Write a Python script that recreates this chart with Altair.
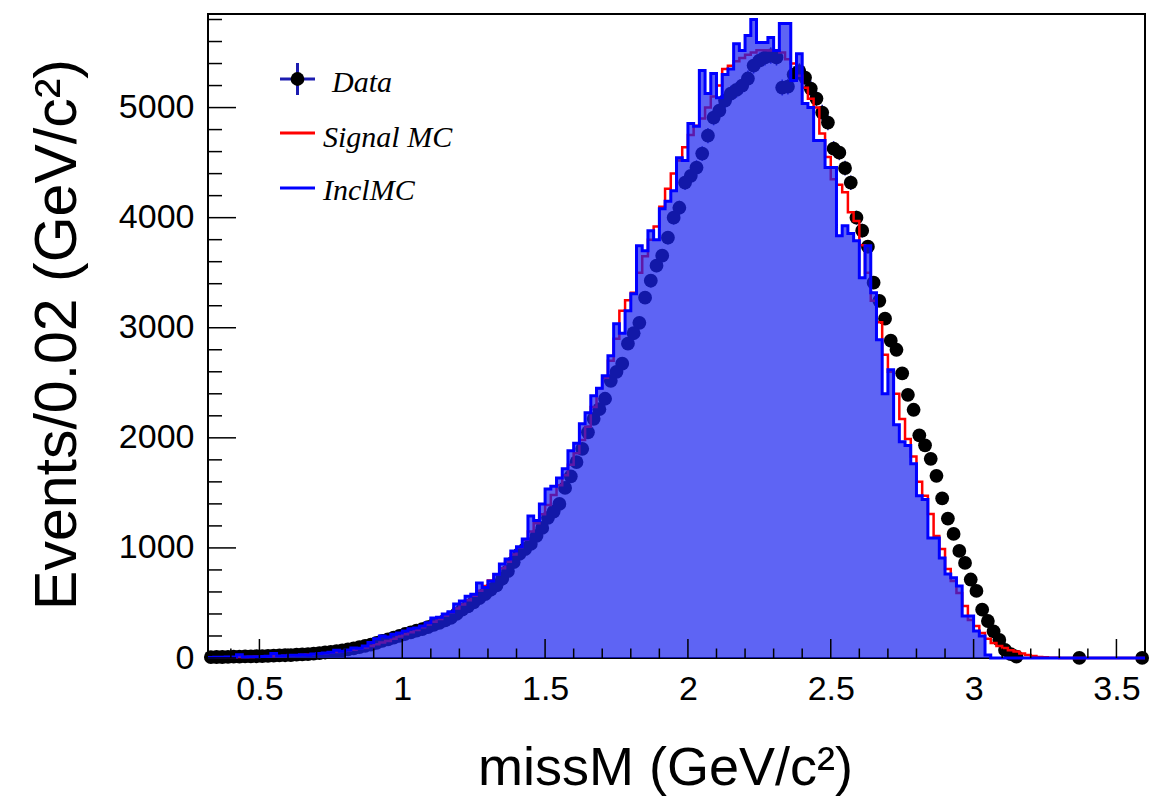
import altair as alt
import numpy as np
import pandas as pd

# ---------------- data (bins of 0.02 GeV/c^2 starting at 0.32) ----------------
bin_width = 0.02
x_min, x_max = 0.32, 3.60

data_counts = [
    8, 9, 9, 11, 12, 12, 14, 15, 16, 18,
    20, 21, 23, 25, 27, 30, 33, 36, 40, 45,
    50, 56, 62, 70, 78, 88, 98, 110, 122, 138,
    155, 170, 185, 200, 218, 232, 248, 262, 280, 300,
    320, 342, 364, 400, 440, 470, 505, 545, 580, 620,
    660, 720, 790, 870, 945, 990, 1036, 1110, 1182, 1273,
    1330, 1400, 1545, 1650, 1780, 1900, 2050, 2173, 2260, 2355,
    2518, 2600, 2673, 2855, 2950, 3045, 3273, 3427, 3564, 3655,
    3818, 4000, 4090, 4318, 4380, 4455, 4582, 4745, 4909, 4972,
    5064, 5127, 5160, 5200, 5264, 5382, 5427, 5455, 5473, 5455,
    5182, 5190, 5300, 5330, 5273, 5173, 5082, 4955, 4864, 4627,
    4590, 4450, 4318, 4000, 3882, 3736, 3409, 3245, 3082, 2882,
    2800, 2586, 2391, 2255, 2023, 1932, 1809, 1655, 1450, 1267,
    1127, 973, 864, 713, 609, 439, 336, 241, 164, 73,
    35, 13, None, None, None, None, None, None, None, None,
    None, None, 1, None, None, None, None, None, None, None,
    None, None, None, 1,
]

signal_mc = [
    3, 4, 5, 6, 7, 8, 9, 10, 11, 12,
    14, 15, 17, 19, 21, 24, 27, 30, 34, 38,
    43, 48, 54, 60, 67, 76, 85, 96, 108, 125,
    140, 155, 175, 195, 215, 235, 255, 280, 305, 330,
    355, 385, 415, 450, 485, 525, 565, 610, 655, 705,
    760, 815, 875, 940, 1005, 1075, 1150, 1225, 1305, 1390,
    1480, 1570, 1660, 1755, 1860, 1980, 2100, 2280, 2450, 2545,
    2700, 2900, 3155, 3250, 3318, 3500, 3650, 3800, 3920, 4100,
    4263, 4400, 4520, 4640, 4750, 4836, 4900, 5000, 5100, 5200,
    5350, 5380, 5420, 5450, 5480, 5500, 5520, 5520, 5518, 5518,
    5500, 5440, 5400, 5290, 5180, 5080, 5000, 4764, 4550, 4350,
    4300, 4230, 4050, 3970, 3750, 3500, 3245, 3050, 2755, 2600,
    2400, 2170, 1990, 1830, 1600, 1473, 1309, 1109, 990, 809,
    700, 590, 472, 345, 290, 227, 175, 136, 110, 91,
    70, 58, 40, 27, 18, 10, 6, 3, 2, 1,
    0, 0, 0, 0, 0, 0, 0, 0, 0, 0,
    0, 0, 0, 0,
]

incl_mc = [
    5, 6, 6, 8, 10, 30, 10, 12, 12, 14,
    16, 40, 18, 20, 24, 26, 30, 28, 36, 40,
    45, 52, 70, 62, 72, 90, 88, 110, 140, 175,
    200, 190, 215, 227, 245, 265, 273, 290, 320, 364,
    370, 400, 420, 490, 518, 560, 580, 682, 640, 700,
    760, 855, 900, 973, 1010, 1080, 1290, 1250, 1400, 1536,
    1560, 1636, 1718, 1882, 1950, 2127, 2227, 2382, 2450, 2564,
    2745, 3036, 2950, 3155, 3309, 3745, 3700, 3882, 3800, 4082,
    4150, 4245, 4545, 4520, 4855, 4830, 5336, 5127, 5310, 5090,
    5300, 5350, 5580, 5518, 5655, 5800, 5590, 5590, 5636, 5518,
    5764, 5764, 5245, 5490, 5036, 5000, 4700, 4700, 4455, 4455,
    3836, 3927, 3855, 3790, 3455, 3745, 3318, 2890, 2400, 2618,
    2118, 1964, 1930, 1764, 1473, 1440, 1090, 1090, 909, 764,
    730, 655, 382, 382, 245, 200, 27, 0, 0, 0,
    0, 0, 0, 0, 0, 0, 0, 0, 0, 0,
    0, 0, 0, 0, 0, 0, 0, 0, 0, 0,
    0, 0, 0, 0,
]

x_major_ticks = [0.5, 1.0, 1.5, 2.0, 2.5, 3.0, 3.5]
x_minor_ticks = [0.4, 0.6, 0.7, 0.8, 0.9, 1.1, 1.2, 1.3, 1.4, 1.6, 1.7, 1.8, 1.9,
                 2.1, 2.2, 2.3, 2.4, 2.6, 2.7, 2.8, 2.9, 3.1, 3.2, 3.3, 3.4]
y_major_ticks = [0, 1000, 2000, 3000, 4000, 5000]
y_minor_ticks = [200, 400, 600, 800, 1200, 1400, 1600, 1800, 2200, 2400, 2600, 2800,
                 3200, 3400, 3600, 3800, 4200, 4400, 4600, 4800, 5200, 5400, 5600, 5800]

y_max = 5850

# ---------------- tables ----------------
n = len(data_counts)
lo_edges = np.round(x_min + bin_width * np.arange(n), 2)
centers = lo_edges + bin_width / 2

pts = pd.DataFrame({"x": centers, "y": data_counts}).dropna()
pts["y"] = pts["y"].astype(float)
pts["e_lo"] = pts["y"] - np.sqrt(pts["y"])
pts["e_hi"] = pts["y"] + np.sqrt(pts["y"])

edges = list(lo_edges) + [x_max]
sig_df = pd.DataFrame({"x": edges, "y": signal_mc + [signal_mc[-1]]})
inc_df = pd.DataFrame({"x": edges, "y": incl_mc + [incl_mc[-1]]})

W, H = 937, 644
xs = alt.Scale(domain=[x_min, x_max], nice=False, zero=False)
ys = alt.Scale(domain=[0, y_max], nice=False)

FONT = "Liberation Sans"
LFONT = "Liberation Serif"

x_axis = alt.Axis(values=x_major_ticks, format="~g", grid=False, domain=False, ticks=False,
                  tickSize=0, labelFont=FONT, labelFontSize=34, labelColor="black",
                  labelPadding=14, title="missM (GeV/c²)", titleFont=FONT, titleFontSize=54,
                  titleFontWeight="normal", titleColor="black", titleX=457, titleY=126,
                  titleAlign="center", titleBaseline="alphabetic")
y_axis = alt.Axis(values=y_major_ticks, format="d", grid=False, domain=False, ticks=False,
                  tickSize=0, labelFont=FONT, labelFontSize=34, labelColor="black",
                  labelPadding=14, title="Events/0.02 (GeV/c²)", titleFont=FONT,
                  titleFontSize=59, titleFontWeight="normal", titleColor="black",
                  titleAngle=-90, titleX=-151, titleY=320, titleAlign="center",
                  titleBaseline="middle")

# base invisible layer carrying axes
axes_layer = alt.Chart(pts).mark_point(opacity=0).encode(
    x=alt.X("x:Q", scale=xs, axis=x_axis),
    y=alt.Y("y:Q", scale=ys, axis=y_axis),
)

err = alt.Chart(pts).mark_rule(color="#1c1cb0", strokeWidth=1.5).encode(
    x=alt.X("x:Q", scale=xs), y=alt.Y("e_lo:Q", scale=ys), y2="e_hi:Q")

dots = alt.Chart(pts).mark_circle(color="black", opacity=1, size=190).encode(
    x=alt.X("x:Q", scale=xs), y=alt.Y("y:Q", scale=ys))

sig_line = alt.Chart(sig_df).mark_line(color="#ff0000", strokeWidth=2.5,
                                       interpolate="step-after").encode(
    x=alt.X("x:Q", scale=xs), y=alt.Y("y:Q", scale=ys))

inc_area = alt.Chart(inc_df).mark_area(color="#1a22f0", opacity=0.7,
                                       interpolate="step-after").encode(
    x=alt.X("x:Q", scale=xs), y=alt.Y("y:Q", scale=ys))

inc_line = alt.Chart(inc_df).mark_line(color="#0000ff", strokeWidth=3,
                                       interpolate="step-after").encode(
    x=alt.X("x:Q", scale=xs), y=alt.Y("y:Q", scale=ys))

# ticks drawn inside the frame (ROOT style)
xmaj = alt.Chart(pd.DataFrame({"t": x_major_ticks})).mark_rule(color="black", strokeWidth=1.5).encode(
    x=alt.X("t:Q", scale=xs), y=alt.value(H), y2=alt.value(H - 19))
xmin_ = alt.Chart(pd.DataFrame({"t": x_minor_ticks})).mark_rule(color="black", strokeWidth=1.5).encode(
    x=alt.X("t:Q", scale=xs), y=alt.value(H), y2=alt.value(H - 9.5))
ymaj = alt.Chart(pd.DataFrame({"t": y_major_ticks})).mark_rule(color="black", strokeWidth=1.5).encode(
    y=alt.Y("t:Q", scale=ys), x=alt.value(0), x2=alt.value(28))
ymin_ = alt.Chart(pd.DataFrame({"t": y_minor_ticks})).mark_rule(color="black", strokeWidth=1.5).encode(
    y=alt.Y("t:Q", scale=ys), x=alt.value(0), x2=alt.value(14))

# legend
leg_cross_h = alt.Chart(pd.DataFrame({"a": [0]})).mark_rule(color="#1c1cb0", strokeWidth=3).encode(
    x=alt.value(72), x2=alt.value(107), y=alt.value(65))
leg_cross_v = alt.Chart(pd.DataFrame({"a": [0]})).mark_rule(color="#1c1cb0", strokeWidth=3).encode(
    x=alt.value(89.5), y=alt.value(49), y2=alt.value(81))
leg_dot = alt.Chart(pd.DataFrame({"a": [0]})).mark_circle(color="black", opacity=1, size=190).encode(
    x=alt.value(89.5), y=alt.value(65))
leg_red = alt.Chart(pd.DataFrame({"a": [0]})).mark_rule(color="#ff0000", strokeWidth=3).encode(
    x=alt.value(72), x2=alt.value(107), y=alt.value(119))
leg_blue = alt.Chart(pd.DataFrame({"a": [0]})).mark_rule(color="#0000ff", strokeWidth=3).encode(
    x=alt.value(72), x2=alt.value(107), y=alt.value(174))

def leg_text(txt, x, y):
    return alt.Chart(pd.DataFrame({"a": [0]})).mark_text(
        text=txt, font=LFONT, fontStyle="italic", fontSize=30, color="black",
        align="left", baseline="alphabetic").encode(x=alt.value(x), y=alt.value(y))

chart = alt.layer(
    axes_layer, err, dots, sig_line, inc_area, inc_line,
    xmaj, xmin_, ymaj, ymin_,
    leg_cross_h, leg_cross_v, leg_dot, leg_red, leg_blue,
    leg_text("Data", 124, 78), leg_text("Signal MC", 115, 133), leg_text("InclMC", 115, 186),
).properties(
    width=W, height=H,
    autosize=alt.AutoSizeParams(type="none"),
    padding={"left": 208, "top": 14, "right": 12, "bottom": 141},
    background="white",
).configure_view(stroke="black", strokeWidth=2)

chart.save("out.html", embed_options={"renderer": "svg", "actions": False})
